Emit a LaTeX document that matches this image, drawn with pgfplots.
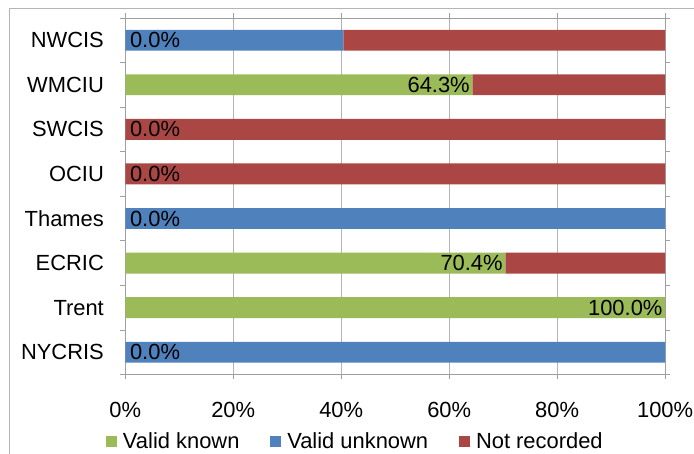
\documentclass[border=0pt]{standalone}
\usepackage{pgfplots}
\pgfplotsset{compat=1.18}
\usepackage{fontspec}
\setmainfont{Liberation Sans}
\definecolor{vknown}{HTML}{9BBB59}
\definecolor{vunknown}{HTML}{4F81BD}
\definecolor{notrec}{HTML}{AA4644}
\definecolor{gridgray}{HTML}{B4B4B4}
\definecolor{axisgray}{HTML}{A0A0A0}
\newcommand{\lblfont}{\fontsize{22bp}{26bp}\selectfont}
\newlength{\zw}

\begin{document}
\settowidth{\zw}{\lblfont 0.0\%}
\begin{tikzpicture}[x=1bp,y=1bp]
\path[use as bounding box] (0,0) rectangle (694,-455);
% chart area frame (only top and left fall inside the picture)
\draw[gridgray, line width=0.8bp] (7,-456) -- (7,-8) -- (695,-8);
\begin{axis}[
    at={(123bp,-376bp)}, anchor=south west,
    width=542bp, height=358bp, scale only axis,
    xbar stacked, bar width=21bp,
    xmin=0, xmax=100, ymin=-0.5, ymax=7.5,
    ytick={0,...,7},
    yticklabels={NYCRIS,Trent,ECRIC,Thames,OCIU,SWCIS,WMCIU,NWCIS},
    minor ytick={-0.5,0.5,...,7.5},
    xtick={0,20,...,100},
    xticklabel={\pgfmathprintnumber{\tick}\%},
    /pgf/number format/assume math mode=true,
    xmajorgrids, major grid style={gridgray, line width=0.8bp},
    axis line style={axisgray, line width=0.8bp},
    tick align=outside,
    major y tick style={draw=none},
    minor y tick style={axisgray, line width=0.8bp},
    major x tick style={axisgray, line width=0.8bp},
    major tick length=5bp, minor tick length=5bp,
    tick label style={font=\lblfont, text=black},
    yticklabel style={xshift=-13bp},
    xticklabel style={yshift=-19bp},
    legend style={at={(-0.036,-0.188)}, anchor=west, draw=none, fill=none,
        inner sep=0pt, nodes={inner sep=0pt}, font=\lblfont,
        legend columns=-1,
        /tikz/every odd column/.append style={column sep=6bp},
        /tikz/every even column/.append style={column sep=31bp}},
    legend image code/.code={\fill[#1] (0bp,-5.5bp) rectangle (11bp,5.5bp);},
]
\addplot[fill=vknown, draw=none]
    coordinates {(0,0) (100,1) (70.4,2) (0,3) (0,4) (0,5) (64.3,6) (0,7)};
\addplot[fill=vunknown, draw=none]
    coordinates {(100,0) (0,1) (0,2) (100,3) (0,4) (0,5) (0,6) (40.4,7)};
\addplot[fill=notrec, draw=none]
    coordinates {(0,0) (0,1) (29.6,2) (0,3) (100,4) (100,5) (35.7,6) (59.6,7)};
\legend{Valid known, Valid unknown, Not recorded}
% share of valid known, written at the end of the green segment (on top of all bars)
% (stacked bar labels sit at the segment centre, so shift by half the bar length)
\addplot[draw=none, fill=none, stack plots=false, forget plot,
    point meta=explicit,
    visualization depends on={rawx \as \rawx},
    nodes near coords={\pgfmathprintnumber[fixed,fixed zerofill,precision=1]{\pgfplotspointmeta}\%},
    every node near coord/.append style={anchor=east, font=\lblfont, text=black,
        inner sep=2.5bp, xshift={ifthenelse(\rawx==0,\zw+7.5bp,\rawx*2.71bp)}},
] coordinates {(0,0) [0] (100,1) [100] (70.4,2) [70.4] (0,3) [0]
               (0,4) [0] (0,5) [0] (64.3,6) [64.3] (0,7) [0]};
\end{axis}
\end{tikzpicture}
\end{document}
